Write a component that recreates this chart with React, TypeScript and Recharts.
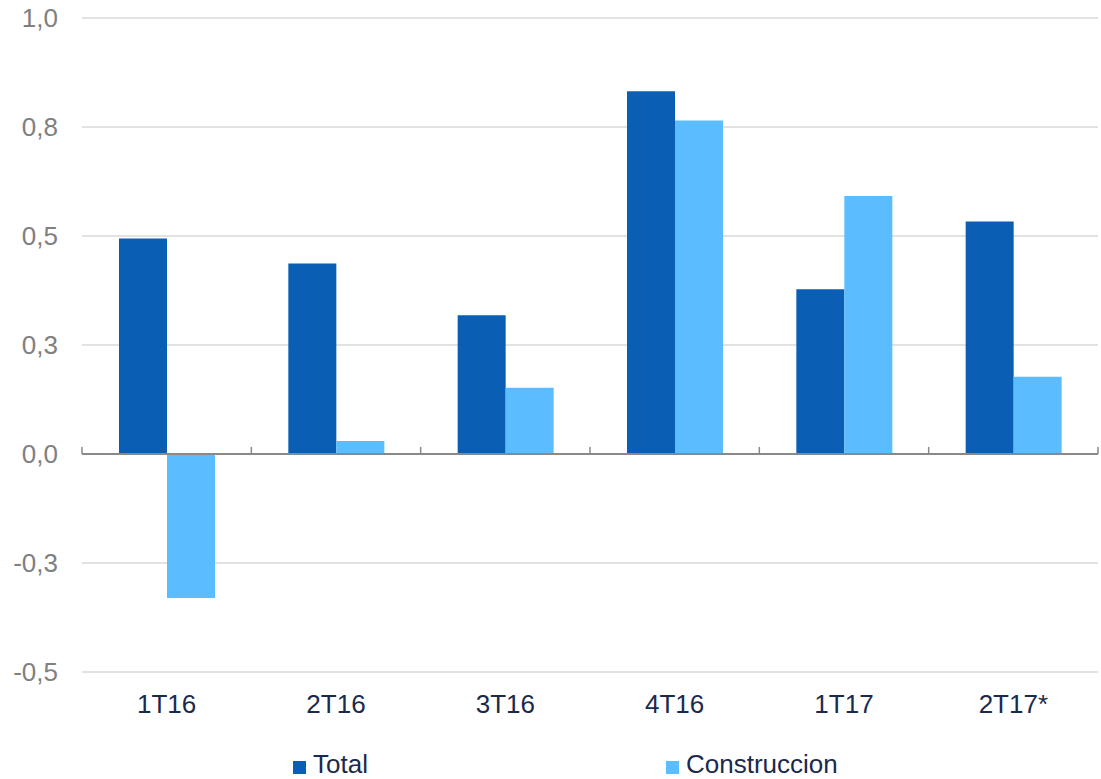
import React from "react"
import {
  BarChart,
  Bar,
  XAxis,
  YAxis,
  CartesianGrid,
  ReferenceLine,
  Legend,
} from "recharts"

const categories = ["1T16", "2T16", "3T16", "4T16", "1T17", "2T17*"]
const totalValues = [0.494, 0.437, 0.318, 0.832, 0.378, 0.533]
const construccionValues = [-0.33, 0.03, 0.152, 0.765, 0.592, 0.177]
const yTicks = [-0.5, -0.25, 0, 0.25, 0.5, 0.75, 1.0]

const data = categories.map((name, i) => ({
  name,
  total: totalValues[i],
  construccion: construccionValues[i],
}))

const DARK = "#0A5EB4"
const LIGHT = "#5BBDFF"
const NAVY = "#1A2A4C"
const FONT = "'Liberation Sans', Arial, sans-serif"

const formatY = (v: number) => v.toFixed(1).replace(".", ",")

// zero axis line with small tick marks at the category boundaries
function ZeroAxis(props: any) {
  const { x1, x2, y1 } = props
  const step = (x2 - x1) / categories.length
  const marks = []
  for (let i = 0; i <= categories.length; i++) {
    const x = x1 + step * i
    marks.push(<line key={i} x1={x} x2={x} y1={y1} y2={y1 - 7} stroke="#898989" strokeWidth={1.5} />)
  }
  return (
    <g>
      <line x1={x1} x2={x2} y1={y1} y2={y1} stroke="#898989" strokeWidth={2} />
      {marks}
    </g>
  )
}

function LegendContent() {
  const item = (left: number, color: string, label: string) => (
    <div style={{ position: "absolute", left, top: 0 }}>
      <div style={{ position: "absolute", left: 0, top: 22, width: 13, height: 13, background: color }} />
      <span style={{ position: "absolute", left: 20, top: 14, whiteSpace: "nowrap" }}>{label}</span>
    </div>
  )
  return (
    <div style={{ position: "relative", height: 40, fontSize: 26, lineHeight: "22px", color: NAVY, fontFamily: FONT }}>
      {item(293, DARK, "Total")}
      {item(666, LIGHT, "Construccion")}
    </div>
  )
}

export default function App() {
  return (
    <div style={{ position: "fixed", top: 0, left: 0, width: 1101, height: 779, background: "#fff" }}>
      <BarChart
        width={1101}
        height={779}
        data={data}
        margin={{ top: 18, right: 3, left: 0, bottom: 0 }}
        barGap={0}
      >
        <CartesianGrid vertical={false} stroke="#D9D9D9" strokeWidth={1.5} />
        <XAxis
          dataKey="name"
          axisLine={false}
          tickLine={false}
          tickSize={0}
          tickMargin={23}
          height={67}
          interval={0}
          tick={{ fill: NAVY, fontSize: 26, fontFamily: FONT }}
        />
        <YAxis
          domain={[-0.5, 1.0]}
          ticks={yTicks}
          tickFormatter={formatY}
          axisLine={false}
          tickLine={false}
          tickSize={0}
          tickMargin={24}
          width={82}
          tick={{ fill: "#808080", fontSize: 26, fontFamily: FONT }}
        />
        <Legend
          verticalAlign="bottom"
          height={40}
          content={<LegendContent />}
          wrapperStyle={{ left: 0, width: 1101 }}
        />
        <Bar dataKey="total" name="Total" fill={DARK} barSize={48} isAnimationActive={false} />
        <Bar dataKey="construccion" name="Construccion" fill={LIGHT} barSize={48} isAnimationActive={false} />
        <ReferenceLine y={0} shape={<ZeroAxis />} />
      </BarChart>
    </div>
  )
}
